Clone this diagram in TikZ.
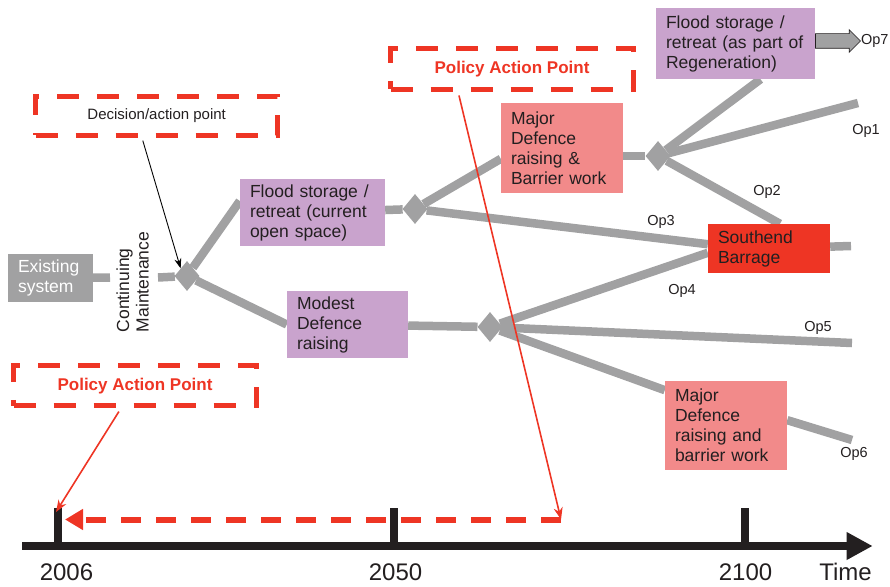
\documentclass[tikz,border=0pt]{standalone}
\usepackage{fontspec}
\setmainfont{Liberation Sans}
\usetikzlibrary{positioning, arrows.meta, shapes.geometric, shapes.arrows, backgrounds}

\definecolor{optgrey}{HTML}{A1A1A2}
\definecolor{optpurple}{HTML}{C9A3CD}
\definecolor{optsalmon}{HTML}{F28A8A}
\definecolor{optred}{HTML}{EE3524}
\definecolor{txtdark}{HTML}{231F20}

\begin{document}
\begin{tikzpicture}[x=1pt, y=-1pt, node distance=0pt]

	\tikzstyle{box}=[inner xsep=10pt, inner ysep=0pt, align=left, text=txtdark, font=\fontsize{17.5}{20}\selectfont]
	\tikzstyle{greybox}=[box, fill=optgrey, text=white]
	\tikzstyle{purplebox}=[box, fill=optpurple]
	\tikzstyle{salmonbox}=[box, fill=optsalmon]
	\tikzstyle{redbox}=[box, fill=optred]
	\tikzstyle{decision}=[diamond, fill=optgrey, minimum width=25pt, minimum height=30pt, inner sep=0pt]
	\tikzstyle{actionbox}=[draw=optred, line width=4.8pt, dash pattern=on 22pt off 18pt, inner sep=0pt, minimum width=243pt, minimum height=40pt]
	\tikzstyle{oplabel}=[text=txtdark, inner sep=0pt, font=\fontsize{14.5}{17}\selectfont]
	\tikzstyle{yearlabel}=[text=txtdark, inner sep=0pt, font=\fontsize{24}{28}\selectfont]

	\tikzstyle{route}=[optgrey, line width=8.5pt]
	\tikzstyle{pointer}=[-{Stealth[length=12pt, width=9pt]}, optred, line width=1.6pt, shorten <=4pt]
	\tikzstyle{timeaxis}=[-{Triangle[length=26pt, width=26pt]}, txtdark, line width=8pt]
	\tikzstyle{tick}=[txtdark, line width=8pt]
	\tikzstyle{lookback}=[-{Triangle[length=18pt, width=20pt]}, optred, line width=6pt, dash pattern=on 20pt off 15pt]

	\useasboundingbox (0,0) rectangle (890,586);

	% options
	\node[greybox, text width=65pt, minimum height=48pt] (existing) at (50.5,278) {Existing\\system};
	\node[rotate=90, align=left, inner sep=0pt, text=txtdark, font=\fontsize{17.5}{19.5}\selectfont] (maint) at (132.5,282) {Continuing\\Maintenance};
	\node[purplebox, text width=125pt, minimum height=67pt] (flood_open) at (312.5,212.5) {Flood storage /\\retreat (current\\open space)};
	\node[purplebox, text width=101pt, minimum height=67pt] (modest) at (347.5,324.5) {Modest\\Defence\\raising};
	\node[salmonbox, text width=102pt, minimum height=90pt] (major_def) at (562,148) {Major\\Defence\\raising \&\\Barrier work};
	\node[purplebox, text width=139pt, minimum height=71pt] (flood_regen) at (735.5,43.5) {Flood storage /\\retreat (as part of\\Regeneration)};
	\node[redbox, text width=102pt, minimum height=49pt] (southend) at (769,248.5) {Southend\\Barrage};
	\node[salmonbox, text width=102pt, minimum height=89pt] (major_bar) at (726,425.5) {Major\\Defence\\raising and\\barrier work};

	\node[decision] (dp1) at (187,276) {};
	\node[decision] (dp2) at (415,209) {};
	\node[decision] (dp3) at (658,156) {};
	\node[decision] (dp4) at (490,327) {};

	\coordinate (cm_left) at (110,277.5);
	\coordinate (cm_right) at (158,277.5);
	\coordinate (op1_end) at (858,103);
	\coordinate (sb_end) at (851,246);
	\coordinate (op5_end) at (852,343);
	\coordinate (op6_end) at (852,440);

	\begin{scope}[on background layer]
	\draw[route] (existing) -- (cm_left);
	\draw[route] (cm_right) -- (dp1);
	\draw[route] (dp1) -- (flood_open.171);
	\draw[route] (dp1) -- (modest.west);
	\draw[route] (flood_open) -- (dp2);
	\draw[route] (dp2) -- (major_def.190);
	\draw[route] (dp2) -- (southend.176);
	\draw[route] (major_def.east |- dp3) -- (dp3);
	\draw[route] (dp3) -- (flood_regen.-55);
	\draw[route] (dp3) -- (op1_end);
	\draw[route] (dp3) -- (southend.66);
	\draw[route] (southend) -- (sb_end);
	\draw[route] (southend.184) -- (dp4);
	\draw[route] (modest) -- (dp4);
	\draw[route] (dp4) -- (op5_end);
	\draw[route] (dp4) -- (major_bar.150);
	\draw[route] (major_bar.5) -- (op6_end);
	\end{scope}

	\node[single arrow, draw=txtdark, line width=0.6pt, fill=optgrey, minimum height=45pt, inner xsep=0pt, inner ysep=7pt, single arrow head extend=4pt, right=of flood_regen, yshift=2.5pt] (op7_arrow) {};

	\node[oplabel] (op1) at (866,131) {Op1};
	\node[oplabel] (op2) at (767,192) {Op2};
	\node[oplabel] (op3) at (661,222) {Op3};
	\node[oplabel] (op4) at (682,291) {Op4};
	\node[oplabel] (op5) at (818,328) {Op5};
	\node[oplabel] (op6) at (854,454) {Op6};
	\node[oplabel, right=of op7_arrow] (op7) {Op7};

	% action points
	\node[actionbox, minimum width=242pt, minimum height=39pt, text=txtdark, font=\fontsize{15}{18}\selectfont] (dec_box) at (156.7,115.8) {Decision/action point};
	\node[actionbox, minimum height=41pt, text=optred, font=\bfseries\fontsize{17}{20}\selectfont] (policy_top) at (512,68.7) {Policy Action Point};
	\node[actionbox, text=optred, font=\bfseries\fontsize{17}{20}\selectfont] (policy_low) at (135,385.8) {Policy Action Point};

	\draw[-{Stealth[length=10pt, width=7pt]}, black, line width=0.9pt, shorten <=3pt] (dec_box.236) -- (dp1.north west);

	% time line
	\coordinate (t_start) at (22,546);
	\coordinate (t_end) at (872.7,546);
	\coordinate (t2006) at (58,546);
	\coordinate (t2050) at (394,546);
	\coordinate (t2100) at (744.5,546);
	\coordinate (back_start) at (561,519.5);
	\coordinate (back_tip) at (65,519.5);

	\draw[timeaxis] (t_start) -- (t_end);
	\foreach \t in {t2006, t2050, t2100}
		\draw[tick] (\t) -- ++(0,-38);
	\draw[lookback] (back_start) -- (back_tip);

	\draw[pointer] (policy_top.203) -- (back_start);
	\draw[pointer] (policy_low.238) -- ([xshift=-2pt, yshift=-4pt]t2006 |- 0,508);

	\node[yearlabel] (y2006) at (66.5,572) {2006};
	\node[yearlabel] (y2050) at (395.5,572) {2050};
	\node[yearlabel] (y2100) at (745.5,572) {2100};
	\node[yearlabel] (time) at (845.5,572) {Time};

\end{tikzpicture}
\end{document}
